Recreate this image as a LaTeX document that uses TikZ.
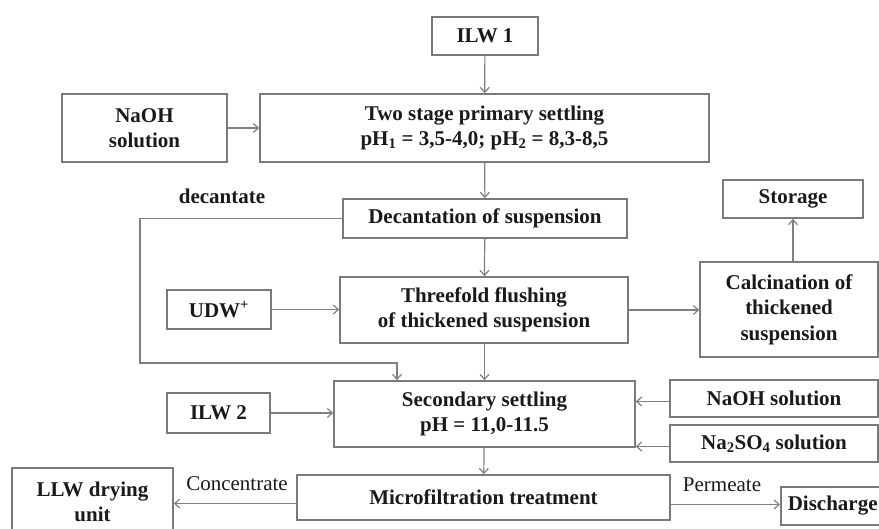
\documentclass[tikz,border=0pt]{standalone}
\usepackage{fontspec}
\setmainfont{Liberation Serif}
\usetikzlibrary{arrows.meta}
\definecolor{boxline}{HTML}{7A7A7A}
\definecolor{arrline}{HTML}{808080}
\definecolor{txt}{HTML}{1A1A1A}
\begin{document}
\begin{tikzpicture}[x=1pt,y=-1pt,
  box/.style={draw=boxline, line width=1.6pt, fill=white, text=txt, align=center,
    inner sep=2pt, font=\fontsize{21}{25.5}\selectfont\bfseries},
  arr/.style={draw=arrline, line width=1.2pt, -{Straight Barb[length=5pt,width=9pt]}},
  lbl/.style={text=txt, font=\fontsize{21}{25}\selectfont\bfseries, inner sep=0pt}]
\useasboundingbox (0,0) rectangle (879,528);
\fill[white] (0,0) rectangle (879,528);

\node[box, minimum width=106pt, minimum height=38pt] (ilw1) at (485,36) {ILW 1};
\node[box, minimum width=165pt, minimum height=68pt] (naoh1) at (144.5,128) {NaOH\\solution};
\node[box, minimum width=449pt, minimum height=68pt] (two) at (484.5,128)
  {Two stage primary settling\\pH\textsubscript{1} = 3,5-4,0; pH\textsubscript{2} = 8,3-8,5};
\node[box, minimum width=284pt, minimum height=39pt] (dec) at (485,218.5) {Decantation of suspension};
\node[box, minimum width=140pt, minimum height=38pt] (storage) at (793,199) {Storage};
\node[box, minimum width=288pt, minimum height=66pt] (three) at (484,310)
  {Threefold flushing\\of thickened suspension};
\node[box, minimum width=104pt, minimum height=39pt] (udw) at (219,309.5) {UDW\textsuperscript{+}};
\node[box, minimum width=178pt, minimum height=95pt] (calc) at (789,309.5)
  {Calcination of\\thickened\\suspension};
\node[box, minimum width=301pt, minimum height=66pt] (sec) at (484.5,414)
  {Secondary settling\\pH = 11,0-11.5};
\node[box, minimum width=208pt, minimum height=37pt] (naoh2) at (774,398.5) {NaOH solution};
\node[box, minimum width=208pt, minimum height=37pt] (naso) at (774,443.5)
  {Na\textsubscript{2}SO\textsubscript{4} solution};
\node[box, minimum width=103pt, minimum height=40pt] (ilw2) at (218.5,413) {ILW 2};
\node[box, minimum width=161pt, minimum height=68pt] (llw) at (92.5,502) {LLW drying\\unit};
\node[box, minimum width=373pt, minimum height=45pt] (micro) at (483.5,497.5) {Microfiltration treatment};
\node[box, anchor=west, minimum height=38pt, text width=106pt, inner xsep=7pt, align=left] (disc)
  at (780,506) {Discharge};

\node[lbl] (decl) at (222,196) {decantate};
\node[lbl, font=\fontsize{21}{25}\selectfont] (conl) at (237,484) {Concentrate};
\node[lbl, font=\fontsize{21}{25}\selectfont] (perl) at (722,485) {Permeate};

\coordinate (db) at (140,363);
\coordinate (dt) at (397,363);

\draw[arr] (ilw1) -- (two);
\draw[arr] (naoh1) -- (two);
\draw[arr] (two) -- (dec);
\draw[arr] (dec) -- (three);
\draw[arr] (udw) -- (three.west |- udw);
\draw[arr] (three.east) -- (calc.west |- three.east);
\draw[arr] ([xshift=4pt]calc.north) -- ([xshift=4pt]calc.north |- storage.south);
\draw[arr] (three.south -| sec.north) -- (sec.north);
\draw[arr] (dec.west) -| (db) -- (dt) -- (dt |- sec.north);
\draw[arr] (ilw2) -- (sec.west |- ilw2);
\draw[arr] ([yshift=-3pt]naoh2.west) -- ([yshift=-3pt]sec.east |- naoh2.west);
\draw[arr] ([yshift=-3pt]naso.west) -- ([yshift=-3pt]sec.east |- naso.west);
\draw[arr] (sec) -- (micro);
\draw[arr] ([yshift=-6pt]micro.west) -- ([yshift=-6pt]llw.east |- micro.west);
\draw[arr] ([yshift=-7pt]micro.east) -- ([yshift=-7pt]disc.west |- micro.east);
\end{tikzpicture}
\end{document}
